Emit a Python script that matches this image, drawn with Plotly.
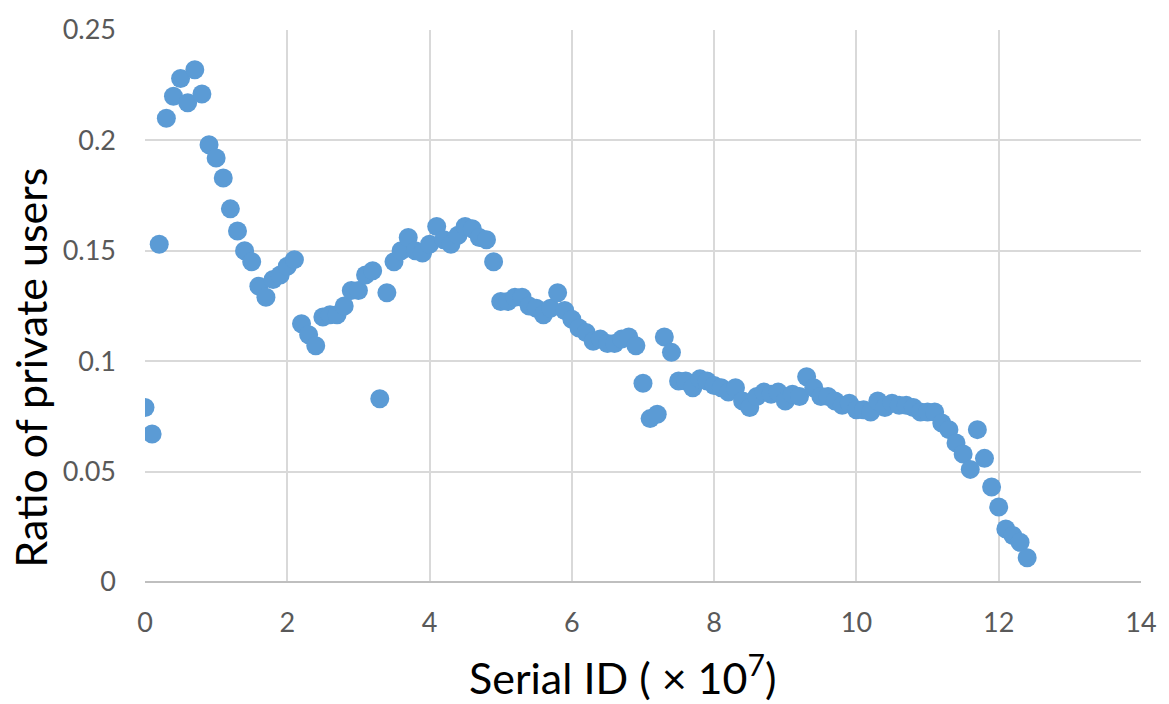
import plotly.graph_objects as go

# Serial ID bins (×10^7) and the share of private users in each bin
serial_id = [round(i * 0.1, 1) for i in range(125)]
private_ratio = [
    0.079, 0.067, 0.153, 0.210, 0.220, 0.228, 0.217, 0.232, 0.221, 0.198,
    0.192, 0.183, 0.169, 0.159, 0.150, 0.145, 0.134, 0.129, 0.137, 0.139,
    0.143, 0.146, 0.117, 0.112, 0.107, 0.120, 0.121, 0.121, 0.125, 0.132,
    0.132, 0.139, 0.141, 0.083, 0.131, 0.145, 0.150, 0.156, 0.150, 0.149,
    0.153, 0.161, 0.155, 0.153, 0.157, 0.161, 0.160, 0.156, 0.155, 0.145,
    0.127, 0.127, 0.129, 0.129, 0.125, 0.124, 0.121, 0.124, 0.131, 0.123,
    0.119, 0.115, 0.113, 0.109, 0.110, 0.108, 0.108, 0.110, 0.111, 0.107,
    0.090, 0.074, 0.076, 0.111, 0.104, 0.091, 0.091, 0.088, 0.092, 0.091,
    0.089, 0.088, 0.086, 0.088, 0.082, 0.079, 0.084, 0.086, 0.085, 0.086,
    0.082, 0.085, 0.084, 0.093, 0.088, 0.084, 0.084, 0.082, 0.080, 0.081,
    0.078, 0.078, 0.077, 0.082, 0.079, 0.081, 0.080, 0.080, 0.079, 0.077,
    0.077, 0.077, 0.072, 0.069, 0.063, 0.058, 0.051, 0.069, 0.056, 0.043,
    0.034, 0.024, 0.021, 0.018, 0.011,
]

x_ticks = [0, 2, 4, 6, 8, 10, 12, 14]
y_ticks = [0, 0.05, 0.1, 0.15, 0.2, 0.25]
y_tick_labels = ["0", "0.05", "0.1", "0.15", "0.2", "0.25"]

x_title = "Serial ID ( \u00d7 10<sup>7</sup>)"
y_title = "Ratio of private users"

fig = go.Figure(
    go.Scatter(
        x=serial_id,
        y=private_ratio,
        mode="markers",
        marker=dict(size=19, color="#5B9BD5", line=dict(width=0)),
    )
)

grid = "#D9D9D9"
tick_font = dict(family="Lato, Carlito, sans-serif", size=27, color="#595959")
title_font = dict(family="Lato, Carlito, sans-serif", size=43, color="#000000")

fig.update_layout(
    width=1169,
    height=704,
    margin=dict(l=145, r=24, t=24, b=122),
    paper_bgcolor="white",
    plot_bgcolor="white",
    showlegend=False,
    xaxis=dict(
        range=[0, 14],
        tickvals=x_ticks,
        ticktext=[str(v) for v in x_ticks],
        showgrid=True,
        gridcolor=grid,
        gridwidth=1.5,
        zeroline=False,
        showline=False,
        ticks="",
        ticklabelstandoff=22,
        tickfont=tick_font,
    ),
    yaxis=dict(
        range=[0, 0.25],
        tickvals=y_ticks,
        ticktext=y_tick_labels,
        showgrid=True,
        gridcolor=grid,
        gridwidth=1.5,
        zeroline=True,
        zerolinecolor="#BFBFBF",
        zerolinewidth=2,
        showline=False,
        ticks="",
        ticklabelstandoff=28,
        tickfont=tick_font,
    ),
    annotations=[
        # axis titles, placed in paper coordinates below and left of the plot
        dict(text=x_title, xref="paper", yref="paper", x=0.479, y=-0.168,
             xanchor="center", yanchor="middle", showarrow=False, font=title_font),
        dict(text=y_title, xref="paper", yref="paper", x=-0.115, y=0.389,
             xanchor="center", yanchor="middle", textangle=-90, showarrow=False,
             font=title_font),
    ],
)

fig.write_html("out.html")
